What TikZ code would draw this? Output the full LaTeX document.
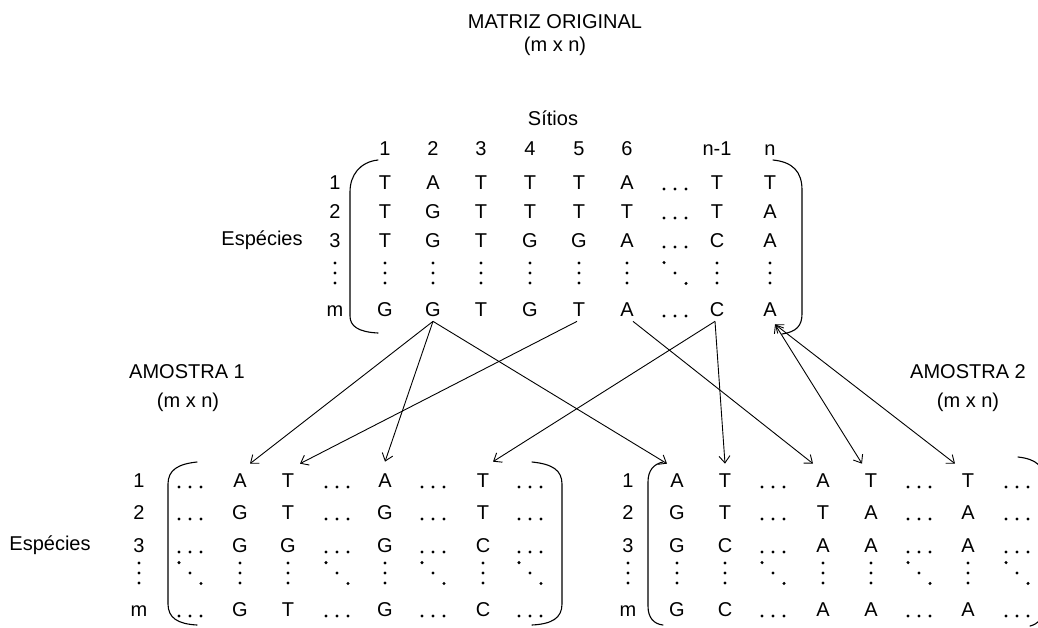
\documentclass[tikz,border=0pt]{standalone}
\usepackage{fontspec}
\setmainfont{Liberation Sans}
\usetikzlibrary{arrows.meta}
\newcommand{\mydotsH}[2]{\foreach \k in {-11,0,11} {\fill ({#1+\k},{#2}) circle (1.7);}}
\newcommand{\mydotsV}[2]{\foreach \k in {-10,0,10} {\fill ({#1},{#2+\k}) circle (1.7);}}
\newcommand{\mydotsD}[2]{\foreach \k in {-11,0,11} {\fill ({#1+\k},{#2+\k*0.95}) circle (1.7);}}
\begin{document}
\begin{tikzpicture}[x=1pt,y=-1pt,
  lt/.style={font=\fontsize{20}{22}\selectfont, inner sep=0pt, text height=14.3pt, text depth=0pt, anchor=center},
  lbl/.style={font=\fontsize{20}{22}\selectfont, inner sep=0pt, align=center},
  brk/.style={line width=1.1pt, line cap=round},
  arr/.style={line width=0.9pt, -{Straight Barb[length=7pt,width=11pt]}},
  arrb/.style={line width=0.9pt, {Straight Barb[length=7pt,width=11pt]}-{Straight Barb[length=7pt,width=11pt]}}]
\useasboundingbox (0,0) rectangle (1038,627);
\clip (0,0) rectangle (1038,627);
% titles
\node[lbl] (t1) at (555,22) {MATRIZ ORIGINAL};
\node[lbl] (t2) at (555,46) {(m x n)};
\node[lbl] (sitios) at (553,118) {Sítios};
\node[lbl] (esp0) at (262,240) {Espécies};
\node[lbl] (am1) at (187,372) {AMOSTRA 1};
\node[lbl] (am1b) at (188,402) {(m x n)};
\node[lbl] (am2) at (968,372) {AMOSTRA 2};
\node[lbl] (am2b) at (968,402) {(m x n)};
\node[lbl] (esp1) at (50,545) {Espécies};
% ---------- original matrix ----------
\foreach \c/\x/\t in {1/385/1,2/433/2,3/481/3,4/530/4,5/579/5,6/627/6,8/717/n-1,9/770/n}
  \node[lt] (h-\c) at (\x,148) {\t};
\foreach \r/\y/\t in {1/182/1,2/211/2,3/240/3,m/309/m}
  \node[lt] (rl-\r) at (335,\y) {\t};
\mydotsV{335}{273}
\foreach \c/\x/\t in {1/385/T,2/433/A,3/481/T,4/530/T,5/579/T,6/627/A,8/717/T,9/770/T}
  \node[lt] (o-1-\c) at (\x,182) {\t};
\foreach \c/\x/\t in {1/385/T,2/433/G,3/481/T,4/530/T,5/579/T,6/627/T,8/717/T,9/770/A}
  \node[lt] (o-2-\c) at (\x,211) {\t};
\foreach \c/\x/\t in {1/385/T,2/433/G,3/481/T,4/530/G,5/579/G,6/627/A,8/717/C,9/770/A}
  \node[lt] (o-3-\c) at (\x,240) {\t};
\foreach \c/\x/\t in {1/385/G,2/433/G,3/481/T,4/530/G,5/579/T,6/627/A,8/717/C,9/770/A}
  \node[lt] (o-m-\c) at (\x,309) {\t};
\mydotsH{675}{189}
\mydotsH{675}{218}
\mydotsH{675}{247}
\mydotsH{675}{316}
\foreach \x in {385,433,481,530,579,627,717,770} {\mydotsV{\x}{273}}
\mydotsD{675}{273}
\draw[brk] (378,160) .. controls (360,162) and (350,175) .. (350,192) -- (350,316) .. controls (350,326) and (358,332) .. (378,333);
\draw[brk] (773,160) .. controls (793,162) and (802,172) .. (802,190) -- (802,314) .. controls (802,326) and (796,332) .. (782,334);
% ---------- sample 1 ----------
\foreach \r/\y/\t in {1/480/1,2/512/2,3/545/3,m/609/m}
  \node[lt] (s1l-\r) at (139,\y) {\t};
\mydotsV{139}{573}
\foreach \c/\x/\t in {2/240/A,3/288/T,5/385/A,7/483/T}
  \node[lt] (s1-1-\c) at (\x,480) {\t};
\foreach \c/\x/\t in {2/240/G,3/288/T,5/385/G,7/483/T}
  \node[lt] (s1-2-\c) at (\x,512) {\t};
\foreach \c/\x/\t in {2/240/G,3/288/G,5/385/G,7/483/C}
  \node[lt] (s1-3-\c) at (\x,545) {\t};
\foreach \c/\x/\t in {2/240/G,3/288/T,5/385/G,7/483/C}
  \node[lt] (s1-m-\c) at (\x,609) {\t};
\foreach \x in {190,337,433,530} {
  \mydotsH{\x}{487}\mydotsH{\x}{519}\mydotsH{\x}{552}\mydotsH{\x}{616}\mydotsD{\x}{573}}
\foreach \x in {240,288,385,483} {\mydotsV{\x}{573}}
\draw[brk] (197,462) .. controls (178,464) and (168,470) .. (168,484) -- (168,604) .. controls (168,618) and (178,624) .. (197,625);
\draw[brk] (532,462) .. controls (552,464) and (562,470) .. (562,484) -- (562,604) .. controls (562,618) and (552,624) .. (532,625);
% ---------- sample 2 ----------
\foreach \r/\y/\t in {1/480/1,2/512/2,3/545/3,m/609/m}
  \node[lt] (s2l-\r) at (628,\y) {\t};
\mydotsV{628}{573}
\foreach \c/\x/\t in {1/677/A,2/725/T,4/823/A,5/871/T,7/968/T}
  \node[lt] (s2-1-\c) at (\x,480) {\t};
\foreach \c/\x/\t in {1/677/G,2/725/T,4/823/T,5/871/A,7/968/A}
  \node[lt] (s2-2-\c) at (\x,512) {\t};
\foreach \c/\x/\t in {1/677/G,2/725/C,4/823/A,5/871/A,7/968/A}
  \node[lt] (s2-3-\c) at (\x,545) {\t};
\foreach \c/\x/\t in {1/677/G,2/725/C,4/823/A,5/871/A,7/968/A}
  \node[lt] (s2-m-\c) at (\x,609) {\t};
\foreach \x in {773,919,1017} {
  \mydotsH{\x}{487}\mydotsH{\x}{519}\mydotsH{\x}{552}\mydotsH{\x}{616}\mydotsD{\x}{573}}
\foreach \x in {677,725,823,871,968} {\mydotsV{\x}{573}}
\draw[brk] (663,462) .. controls (654,464) and (648,470) .. (648,482) -- (648,606) .. controls (648,618) and (654,624) .. (663,625);
\draw[brk] (1018,457) .. controls (1036,459) and (1044,466) .. (1044,480) -- (1044,606) .. controls (1044,618) and (1038,624) .. (1030,626);
% ---------- arrows ----------
\draw[arr] ([yshift=-5pt]o-m-2.south) -- ([xshift=10pt,yshift=9pt]s1-1-2.north);
\draw[arr] ([yshift=-5pt]o-m-2.south) -- ([yshift=11pt]s1-1-5.north);
\draw[arr] ([yshift=-5pt]o-m-2.south) -- ([xshift=-10pt,yshift=9pt]s2-1-1.north);
\draw[arr] ([xshift=-2pt,yshift=-5pt]o-m-5.south) -- ([xshift=12pt,yshift=9pt]s1-1-3.north);
\draw[arr] ([xshift=-2pt,yshift=-5pt]o-m-8.south) -- ([xshift=10pt,yshift=11pt]s1-1-7.north);
\draw[arr] ([xshift=-2pt,yshift=-5pt]o-m-8.south) -- ([yshift=9pt]s2-1-2.north);
\draw[arr] ([xshift=6pt,yshift=-5pt]o-m-6.south) -- ([xshift=-10pt,yshift=9pt]s2-1-4.north);
\draw[arrb] ([xshift=5pt,yshift=-8pt]o-m-9.south) -- ([xshift=-9pt,yshift=9pt]s2-1-5.north);
\draw[arrb] ([xshift=5pt,yshift=-8pt]o-m-9.south) -- ([xshift=-13pt,yshift=9pt]s2-1-7.north);
\end{tikzpicture}
\end{document}
